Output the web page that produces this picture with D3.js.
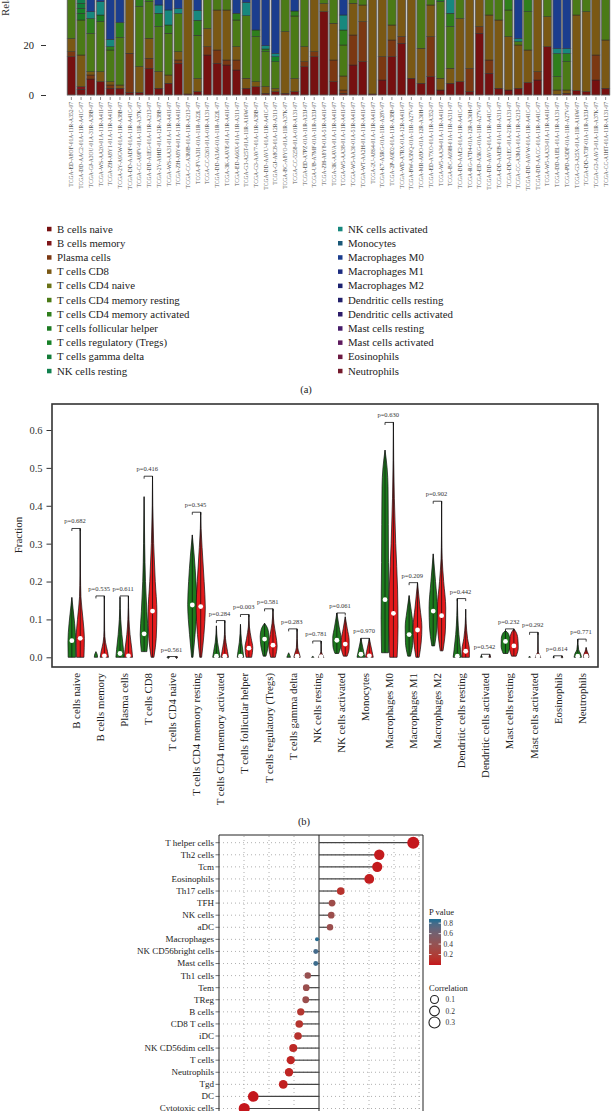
<!DOCTYPE html>
<html><head><meta charset="utf-8">
<script src="https://cdn.jsdelivr.net/npm/d3@7"></script>
<style>body{margin:0;background:#fff} svg{display:block} text{font-family:"Liberation Serif","DejaVu Serif",serif}</style>
</head><body><svg id="c" width="612" height="1111"></svg>
<script>
// ---------- DATA ----------
const cellTypes = ["B cells naive","B cells memory","Plasma cells","T cells CD8","T cells CD4 naive","T cells CD4 memory resting","T cells CD4 memory activated","T cells follicular helper","T cells regulatory (Tregs)","T cells gamma delta","NK cells resting","NK cells activated","Monocytes","Macrophages M0","Macrophages M1","Macrophages M2","Dendritic cells resting","Dendritic cells activated","Mast cells resting","Mast cells activated","Eosinophils","Neutrophils"];
const cellColors = ["#761010","#80161a","#7b3812","#7a5814","#6a7216","#4b7a16","#2f7f1c","#1c7a22","#178128","#137c38","#11804e","#17887e","#1a5878","#1b3d8e","#1c2c80","#1c2270","#22206a","#2c1c6a","#461c6a","#5e1a5e","#6c1a42","#741a2c"];
const samples = ["TCGA-ED-A8OF-01A-11R-A352-07","TCGA-DD-AAC2-01A-11R-A41C-07","TCGA-GJ-A3OU-01A-31R-A38B-07","TCGA-WS-AA20-01A-11R-A41I-07","TCGA-ZH-A8Y1-01A-11R-A41I-07","TCGA-2Y-A9GW-01A-11R-A38B-07","TCGA-DD-AADF-01A-11R-A41C-07","TCGA-CC-A9FV-01A-11R-A37K-07","TCGA-DD-A1EG-01A-11R-A213-07","TCGA-2Y-A9HD-01A-12R-A38B-07","TCGA-WS-AA31-01A-11R-A41I-07","TCGA-ZH-A8Y4-01A-11R-A41I-07","TCGA-CC-A3MB-01A-11R-A213-07","TCGA-FV-A3I1-01A-11R-A22L-07","TCGA-CC-5261-01A-01R-A131-07","TCGA-DD-A3A6-01A-11R-A22L-07","TCGA-3K-AAVE-01A-11R-A41I-07","TCGA-ED-A66X-01A-11R-A311-07","TCGA-G3-A25T-01A-11R-A16W-07","TCGA-G3-AAV7-01A-11R-A38B-07","TCGA-DD-AAVU-01A-11R-A41C-07","TCGA-GJ-A8C8-01A-12R-A311-07","TCGA-BC-A8YO-01A-11R-A37K-07","TCGA-CC-5258-01A-01R-A131-07","TCGA-ED-A7PZ-01A-11R-A33J-07","TCGA-UB-A7MF-01A-11R-A33J-07","TCGA-ZH-A8Y8-01A-51R-A41I-07","TCGA-3K-AAVA-01A-11R-A41I-07","TCGA-W5-AA38-01A-11R-A41I-07","TCGA-W5-AA30-01A-51R-A41I-07","TCGA-WT-AA2H-01A-11R-A41I-07","TCGA-2U-A8S4-01A-11R-A41I-07","TCGA-K7-A5RG-01A-11R-A28V-07","TCGA-2P-A9D2-01A-11R-A38B-07","TCGA-WD-A7RX-01A-12R-A41I-07","TCGA-BW-A5NQ-01A-11R-A27V-07","TCGA-MR-A8JO-01A-12R-A36H-07","TCGA-ED-A7XO-01A-11R-A352-07","TCGA-W5-AA34-01A-11R-A41I-07","TCGA-BC-A69H-01A-11R-A311-07","TCGA-DD-AAE2-01A-11R-A41C-07","TCGA-RG-A7D4-01A-12R-A36H-07","TCGA-ED-A5KG-01A-11R-A27V-07","TCGA-DD-AAVQ-01A-11R-A41C-07","TCGA-DD-AAEB-01A-11R-A311-07","TCGA-DD-A1EC-01A-21R-A131-07","TCGA-CC-A3MA-01A-11R-A213-07","TCGA-DD-AAVW-01A-11R-A41C-07","TCGA-DD-AACC-01A-11R-A41C-07","TCGA-W5-AA33-01A-11R-A41I-07","TCGA-DD-A1EL-01A-11R-A131-07","TCGA-PD-A5DF-01A-11R-A27V-07","TCGA-G3-A25X-01A-11R-A16W-07","TCGA-DD-A73F-01A-11R-A33J-07","TCGA-G3-AAV3-01A-11R-A37K-07","TCGA-CC-A1HT-01A-11R-A131-07"];
// per sample: [cell type index, percent] (non-zero only)
const sampleSegments = [
[[0,15.3],[2,2],[3,5.3],[5,30],[6,5],[13,15],[15,12],[18,10],[21,5.4]],
[[0,2.3],[1,1],[3,12.7],[5,14],[7,2.7],[8,2],[9,2],[10,5],[13,30],[15,18.3],[18,10]],
[[0,6.4],[2,1.6],[3,1.3],[5,15.3],[6,6],[11,2.7],[13,40],[15,16.7],[18,10]],
[[0,5.3],[3,4],[5,20],[7,2.7],[11,5.3],[13,35],[15,17.7],[18,10]],
[[0,2.7],[2,1.3],[3,1.3],[5,12.7],[6,1.3],[11,3],[13,45],[15,20.7],[18,12]],
[[0,2.7],[3,1.3],[5,19],[6,6],[13,40],[15,19],[18,12]],
[[0,1],[2,15.7],[3,45],[5,15],[15,13.3],[18,10]],
[[0,1],[3,10.4],[5,24],[6,8],[13,25],[15,18.6],[18,13]],
[[0,10.7],[2,4],[3,8],[5,14.7],[6,4],[11,3],[13,30],[15,15.6],[18,10]],
[[0,2.7],[3,6.7],[5,18],[6,5.3],[11,3.3],[13,40],[15,14],[18,10]],
[[0,4.7],[3,3.3],[5,16.7],[6,3.3],[11,6],[13,40],[15,16],[18,10]],
[[0,12.7],[2,1.3],[3,3.3],[5,15.3],[11,2],[13,40],[15,15.4],[18,10]],
[[0,0.4],[3,60],[5,15],[15,14.6],[18,10]],
[[0,1.3],[3,5.3],[5,17.3],[6,6],[11,4],[13,40],[15,16.1],[18,10]],
[[0,16],[2,3.3],[3,7.3],[5,35],[13,15],[15,13.4],[18,10]],
[[0,12.7],[2,5.3],[3,16],[5,30],[13,12],[15,14],[18,10]],
[[0,12],[2,2],[3,20],[5,30],[13,12],[15,14],[18,10]],
[[0,10],[2,4],[3,5.3],[5,10.7],[6,2.7],[13,40],[15,17.3],[18,10]],
[[0,2.7],[3,4],[5,25],[11,5.3],[13,35],[15,18],[18,10]],
[[0,3.3],[3,2],[5,18],[6,2.7],[13,45],[15,19],[18,10]],
[[0,0.7],[3,2.7],[5,14],[6,1],[11,1.3],[13,55],[15,15.3],[18,10]],
[[0,1.3],[3,1.3],[5,10.7],[8,2],[11,1.3],[13,55],[15,18.4],[18,10]],
[[0,0.7],[3,24.7],[5,40],[15,20],[18,14.6]],
[[0,1.3],[3,5.3],[5,25],[6,2],[13,40],[15,16.4],[18,10]],
[[0,11.3],[2,2],[3,6],[5,40],[13,15],[15,15.7],[18,10]],
[[0,15.3],[2,2],[3,45],[5,15],[15,12.7],[18,10]],
[[0,33.3],[3,3.3],[5,30],[15,20],[18,13.4]],
[[0,5.3],[2,8.7],[3,14.7],[5,35],[15,20],[18,16.3]],
[[0,0.7],[2,1.3],[3,5.6],[5,12.4],[6,6],[11,6],[13,40],[15,18],[18,10]],
[[0,12],[2,12],[3,12.7],[5,30],[15,20],[18,13.3]],
[[0,13.3],[2,16],[3,6.7],[5,30],[15,20],[18,14]],
[[0,0.4],[3,60],[5,15],[15,14.6],[18,10]],
[[0,6],[2,9.3],[3,50],[5,14.7],[15,12],[18,8]],
[[0,15.3],[2,6.7],[3,6],[5,40],[15,20],[18,12]],
[[0,20.7],[2,2.7],[3,45],[5,15],[15,10],[18,6.6]],
[[0,6.7],[3,55],[5,20],[15,10],[18,8.3]],
[[0,4.7],[3,14],[5,45],[15,20],[18,16.3]],
[[0,7.3],[2,16],[3,12.7],[5,35],[15,17],[18,12]],
[[0,2],[3,4.7],[5,30.7],[7,2.6],[13,30],[15,20],[18,10]],
[[0,4.7],[3,6],[5,16.7],[6,5.3],[11,8],[13,30],[15,19.3],[18,10]],
[[0,5.3],[3,25.3],[5,40],[15,17],[18,12.4]],
[[0,1.3],[2,9.3],[3,55],[5,15],[15,11.4],[18,8]],
[[0,24.7],[2,2.7],[3,45],[5,12],[15,10],[18,5.6]],
[[0,8.7],[2,5.3],[3,18],[5,40],[15,16],[18,12]],
[[0,2.7],[3,27.3],[5,40],[15,18],[18,12]],
[[0,2],[3,21.3],[5,10.7],[6,20],[15,26],[18,20]],
[[0,2.7],[3,17.3],[5,1.3],[11,1.3],[13,50],[15,17.4],[18,10]],
[[0,5],[3,13],[5,15.3],[6,20],[15,26.7],[18,20]],
[[0,6],[2,3.3],[3,55],[5,15],[15,12.7],[18,8]],
[[0,19.3],[3,12],[5,40],[15,16.7],[18,12]],
[[0,0.3],[3,1.7],[5,5.3],[6,9.3],[11,2],[13,50],[15,21.4],[18,10]],
[[0,0.7],[3,1.3],[5,11.3],[6,3.3],[11,2],[13,50],[15,21.4],[18,10]],
[[0,1.7],[3,30.3],[5,40],[15,18],[18,10]],
[[0,1.3],[3,32],[5,35],[15,20],[18,11.7]],
[[0,6],[2,10],[3,50],[5,15],[15,11],[18,8]],
[[0,2.7],[3,19.3],[5,45],[15,20],[18,13]]
];
const percentTicks = [0,20,40,60,80,100];

// Panel b: violins (profile = [fraction, relative density width]) and medians
const pValues = ["0.682","0.535","0.611","0.416","0.561","0.345","0.284","0.003","0.581","0.283","0.781","0.061","0.970","0.630","0.209","0.902","0.442","0.542","0.232","0.292","0.614","0.771"];
const violinNormal = [
 [[0,0.8],[0.04,0.85],[0.09,0.6],[0.13,0.25],[0.158,0]],
 [[0,0.35],[0.006,0.3],[0.015,0]],
 [[0,0.9],[0.02,0.75],[0.06,0.4],[0.1,0.15],[0.158,0]],
 [[0.015,0.6],[0.06,0.85],[0.12,0.6],[0.2,0.3],[0.3,0.12],[0.424,0]],
 [[0,0.3],[0.002,0]],
 [[0,0.15],[0.06,0.6],[0.14,1],[0.2,0.8],[0.27,0.4],[0.323,0]],
 [[0,0.8],[0.015,0.6],[0.04,0.25],[0.083,0]],
 [[0,0.7],[0.015,0.55],[0.04,0.25],[0.087,0]],
 [[0.003,0.3],[0.03,0.8],[0.055,0.95],[0.075,0.7],[0.09,0]],
 [[0,0.4],[0.005,0.25],[0.012,0]],
 [[0,0.25],[0.003,0]],
 [[0.01,0.4],[0.03,0.85],[0.05,0.9],[0.08,0.5],[0.117,0]],
 [[0,0.85],[0.015,0.6],[0.035,0.25],[0.05,0]],
 [[0.012,0.75],[0.1,0.85],[0.25,0.75],[0.45,0.65],[0.5,0.45],[0.547,0]],
 [[0.003,0.3],[0.04,0.8],[0.08,0.85],[0.12,0.5],[0.163,0]],
 [[0.03,0.3],[0.08,0.8],[0.13,0.9],[0.2,0.5],[0.273,0]],
 [[0,0.9],[0.02,0.7],[0.06,0.35],[0.11,0.1],[0.155,0]],
 [[0,0.2],[0.005,0]],
 [[0.01,0.5],[0.03,0.95],[0.05,0.9],[0.065,0.5],[0.07,0]],
 [[0,0.2],[0.003,0]],
 [[0,0.15],[0.003,0]],
 [[0,0.8],[0.01,0.6],[0.02,0.2],[0.048,0]]
];
const violinTumor = [
 [[0,0.8],[0.05,0.9],[0.1,0.6],[0.16,0.15],[0.22,0.05],[0.34,0]],
 [[0,0.9],[0.015,0.7],[0.04,0.25],[0.07,0.06],[0.162,0]],
 [[0,0.9],[0.02,0.75],[0.06,0.35],[0.1,0.12],[0.162,0]],
 [[0,0.3],[0.05,0.8],[0.12,0.95],[0.2,0.6],[0.3,0.25],[0.4,0.06],[0.478,0]],
 [[0,0.3],[0.002,0]],
 [[0,0.2],[0.06,0.7],[0.13,1],[0.2,0.75],[0.29,0.3],[0.34,0.08],[0.383,0]],
 [[0,0.8],[0.015,0.6],[0.04,0.25],[0.06,0.08],[0.097,0]],
 [[0,0.6],[0.025,0.85],[0.05,0.5],[0.08,0.12],[0.113,0]],
 [[0,0.5],[0.03,0.9],[0.06,0.6],[0.09,0.2],[0.128,0]],
 [[0,0.7],[0.01,0.5],[0.025,0.15],[0.075,0]],
 [[0,0.6],[0.006,0.35],[0.015,0.05],[0.043,0]],
 [[0.003,0.4],[0.025,0.85],[0.045,0.85],[0.075,0.45],[0.107,0]],
 [[0,0.85],[0.015,0.6],[0.035,0.25],[0.05,0]],
 [[0,0.8],[0.08,1],[0.18,0.9],[0.3,0.5],[0.42,0.2],[0.52,0.06],[0.62,0]],
 [[0,0.35],[0.04,0.8],[0.08,0.95],[0.13,0.55],[0.197,0]],
 [[0.017,0.3],[0.08,0.85],[0.13,0.9],[0.2,0.45],[0.26,0.12],[0.32,0.03],[0.412,0]],
 [[0,0.8],[0.02,0.8],[0.05,0.4],[0.09,0.1],[0.127,0]],
 [[0,0.2],[0.008,0]],
 [[0.003,0.5],[0.025,0.95],[0.05,0.85],[0.068,0.4],[0.075,0]],
 [[0,0.6],[0.008,0.3],[0.015,0.04],[0.066,0]],
 [[0,0.2],[0.004,0]],
 [[0,0.6],[0.008,0.5],[0.015,0.25],[0.026,0]]
];
const medianNormal = [0.044,0.001,0.01,0.062,0,0.138,0.003,0.003,0.048,0.001,0,0.045,0.008,0.152,0.06,0.122,0.003,0,0.042,0,0,0.003];
const medianTumor = [0.05,0.004,0.004,0.122,0,0.134,0.003,0.024,0.032,0.003,0.002,0.035,0.004,0.116,0.072,0.11,0.016,0,0.03,0.003,0,0.003];
const fractionTicks = [0,0.1,0.2,0.3,0.4,0.5,0.6];

// Panel c: lollipop
const immuneCells = ["T helper cells","Th2 cells","Tcm","Eosinophils","Th17 cells","TFH","NK cells","aDC","Macrophages","NK CD56bright cells","Mast cells","Th1 cells","Tem","TReg","B cells","CD8 T cells","iDC","NK CD56dim cells","T cells","Neutrophils","Tgd","DC","Cytotoxic cells"];
const correlations = [0.377,0.241,0.233,0.201,0.087,0.052,0.049,0.044,-0.008,-0.013,-0.013,-0.045,-0.051,-0.053,-0.073,-0.079,-0.084,-0.103,-0.113,-0.12,-0.143,-0.263,-0.299];
const corPValues = [0.0,0.01,0.01,0.02,0.12,0.33,0.35,0.36,0.86,0.8,0.82,0.38,0.36,0.36,0.15,0.13,0.12,0.07,0.05,0.05,0.03,0.0,0.0];
const corGridTicks = [-0.3,-0.2,-0.1,0.1,0.2,0.3,0.4];
const pLegendTicks = [0.2,0.4,0.6,0.8];
const corLegendValues = [0.1,0.2,0.3];

// ---------- DRAW ----------
const svg = d3.select("#c");
svg.append("rect").attr("width",612).attr("height",1111).attr("fill","#fff");
const FONT = "'Liberation Serif','DejaVu Serif',serif";

// ===== Panel a =====
const xA = d3.scaleBand().domain(samples).range([66.5,610.5]).paddingInner(0.14).paddingOuter(0.07);
const yA = d3.scaleLinear().domain([0,100]).range([95,-155]);
const rowsA = samples.map((s,i)=>{const o={sample:s}; cellTypes.forEach(c=>o[c]=0); sampleSegments[i].forEach(([k,v])=>{o[cellTypes[k]]=v;}); return o;});
const stackA = d3.stack().keys(cellTypes)(rowsA);
const gA = svg.append("g");
gA.selectAll("g.layer").data(stackA).join("g").attr("fill",(d,i)=>cellColors[i])
  .selectAll("rect").data(d=>d.filter(e=>e[1]-e[0]>0)).join("rect")
  .attr("x",e=>xA(e.data.sample)).attr("width",xA.bandwidth())
  .attr("y",e=>yA(e[1])).attr("height",e=>yA(e[0])-yA(e[1]))
  .attr("stroke","#2a2a2a").attr("stroke-width",0.5);
gA.selectAll("rect.ol").data(samples).join("rect").attr("class","ol")
  .attr("x",d=>xA(d)).attr("width",xA.bandwidth()).attr("y",yA(100)).attr("height",yA(0)-yA(100))
  .attr("fill","none").attr("stroke","#777").attr("stroke-width",0.6);
// only ticks inside the visible page (the upper part of the chart is cropped in the reference)
const axA = d3.axisLeft(yA).tickValues(percentTicks.filter(t=>yA(t)>=8)).tickSize(5).tickPadding(7);
const gAx = gA.append("g").attr("transform","translate(46,0)").call(axA);
gAx.select(".domain").remove();
gAx.selectAll("text").style("font-family",FONT).style("font-size","10.5px").attr("fill","#222");
gAx.selectAll("line").attr("stroke","#333");
gA.append("text").attr("transform","translate(9,16) rotate(-90)").attr("text-anchor","start")
  .style("font-size","11px").attr("fill","#333").text("Relative Percent (%)");
gA.selectAll("line.st").data(samples).join("line").attr("class","st")
  .attr("x1",d=>xA(d)+xA.bandwidth()/2).attr("x2",d=>xA(d)+xA.bandwidth()/2)
  .attr("y1",97).attr("y2",100).attr("stroke","#444").attr("stroke-width",0.6);
gA.selectAll("text.sl").data(samples).join("text").attr("class","sl")
  .attr("transform",d=>`translate(${xA(d)+xA.bandwidth()/2+2},102) rotate(-90)`)
  .attr("text-anchor","end").style("font-size","5.6px").attr("fill","#555").text(d=>d);
const legA = gA.append("g");
cellTypes.forEach((c,i)=>{
  const col = i<11?0:1, r = i%11;
  const x = col===0?47:338, y = 229 + r*14.2;
  legA.append("rect").attr("x",x).attr("y",y-2.2).attr("width",4.5).attr("height",4.5).attr("fill",cellColors[i]);
  legA.append("text").attr("x",x+10).attr("y",y+3.5).style("font-size","10.8px").attr("fill","#222").text(c);
});
svg.append("text").attr("x",306).attr("y",393).attr("text-anchor","middle").style("font-size","10.5px").attr("fill","#222").text("(a)");

// ===== Panel b =====
const xB = d3.scaleBand().domain(cellTypes).range([64,594]);
const yB = d3.scaleLinear().domain([0,0.6]).range([657.3,430]);
const gB = svg.append("g");
const W = 4.6, OFF = 4.2;
const colN = "#1d7a1d", colT = "#e31a1c";
function violin(cx, prof, fill){
  const area = d3.area().y(d=>yB(d[0])).x0(d=>cx-d[1]*W).x1(d=>cx+d[1]*W).curve(d3.curveMonotoneY);
  gB.append("path").attr("d",area(prof)).attr("fill",fill).attr("stroke","#111").attr("stroke-width",0.7);
  const lo = prof[0][0], hi = prof[prof.length-1][0];
  if(hi-lo>0.02){
    gB.append("line").attr("x1",cx).attr("x2",cx).attr("y1",yB(lo)).attr("y2",yB(hi)).attr("stroke","#111").attr("stroke-width",0.7);
  }
  return hi;
}
cellTypes.forEach((c,i)=>{
  const cx = xB(c)+xB.bandwidth()/2;
  const hN = violin(cx-OFF, violinNormal[i], colN);
  const hT = violin(cx+OFF, violinTumor[i], colT);
  if(hN>=0.02) gB.append("circle").attr("cx",cx-OFF).attr("cy",yB(medianNormal[i])).attr("r",2.4).attr("fill","#fff");
  if(hT>=0.02) gB.append("circle").attr("cx",cx+OFF).attr("cy",yB(medianTumor[i])).attr("r",2.4).attr("fill","#fff");
  const top = Math.max(hN,hT);
  const yb = yB(top);
  gB.append("path").attr("d",`M${cx-OFF},${yb+2.5}V${yb}H${cx+OFF}V${yb+2.5}`).attr("fill","none").attr("stroke","#111").attr("stroke-width",0.8);
  gB.append("text").attr("x",cx-1).attr("y",yb-5).attr("text-anchor","middle").style("font-size","6.5px").attr("fill","#333").text("p="+pValues[i]);
});
gB.append("rect").attr("x",52).attr("y",404).attr("width",546).attr("height",263).attr("fill","none").attr("stroke","#333").attr("stroke-width",1.6);
const axB = d3.axisLeft(yB).tickValues(fractionTicks).tickFormat(d3.format(".1f")).tickSize(5).tickPadding(4);
const gBx = gB.append("g").attr("transform","translate(51.5,0)").call(axB);
gBx.select(".domain").remove();
gBx.selectAll("text").style("font-family",FONT).style("font-size","10.5px").attr("fill","#333");
gBx.selectAll("line").attr("stroke","#333");
gB.append("text").attr("transform","translate(22,535) rotate(-90)").attr("text-anchor","middle").style("font-size","11px").attr("fill","#222").text("Fraction");
gB.selectAll("text.xl").data(cellTypes).join("text").attr("class","xl")
  .attr("transform",d=>`translate(${xB(d)+xB.bandwidth()/2+3.8},673) rotate(-90)`)
  .attr("text-anchor","end").style("font-size","10.8px").attr("fill","#222").text(d=>d);
svg.append("text").attr("x",304).attr("y",825).attr("text-anchor","middle").style("font-size","10.5px").attr("fill","#222").text("(b)");

// ===== Panel c =====
const xC = d3.scaleLinear().domain([-0.4,0.4]).range([219,419]);
const yC = d3.scalePoint().domain(immuneCells).range([842.7,1108.5]);
const absExt = d3.extent(correlations.map(Math.abs));
const rC = v => 2 + 4*Math.sqrt((Math.abs(v)-absExt[0])/(absExt[1]-absExt[0]));
const colC = d3.scaleLinear().domain([0,0.88]).range(["#c4161c","#1b6f96"]).interpolate(d3.interpolateLab);
const gC = svg.append("g");
const xRight = xC(0.416);
gC.selectAll("line.vg").data(corGridTicks).join("line")
  .attr("x1",d=>xC(d)).attr("x2",d=>xC(d)).attr("y1",836).attr("y2",1115)
  .attr("stroke","#9a9a9a").attr("stroke-width",0.8).attr("stroke-dasharray","1,3");
gC.selectAll("line.hg").data(immuneCells).join("line")
  .attr("x1",219).attr("x2",xRight).attr("y1",d=>yC(d)).attr("y2",d=>yC(d))
  .attr("stroke","#9a9a9a").attr("stroke-width",0.8).attr("stroke-dasharray","1,3");
gC.append("path").attr("d",`M219,1115V835H${xRight}V1115`).attr("fill","none").attr("stroke","#222").attr("stroke-width",1);
gC.append("line").attr("x1",xC(0)).attr("x2",xC(0)).attr("y1",835).attr("y2",1115).attr("stroke","#222").attr("stroke-width",1);
gC.selectAll("line.seg").data(immuneCells).join("line")
  .attr("x1",xC(0)).attr("x2",(d,i)=>xC(correlations[i])).attr("y1",d=>yC(d)).attr("y2",d=>yC(d))
  .attr("stroke","#444").attr("stroke-width",1.2);
gC.selectAll("circle.dot").data(immuneCells).join("circle")
  .attr("cx",(d,i)=>xC(correlations[i])).attr("cy",d=>yC(d)).attr("r",(d,i)=>rC(correlations[i]))
  .attr("fill",(d,i)=>colC(corPValues[i]));
gC.selectAll("line.tk").data(immuneCells).join("line")
  .attr("x1",215.5).attr("x2",219).attr("y1",d=>yC(d)).attr("y2",d=>yC(d)).attr("stroke","#333").attr("stroke-width",0.7);
gC.selectAll("text.rl").data(immuneCells).join("text")
  .attr("x",214).attr("y",d=>yC(d)).attr("dy","0.33em").attr("text-anchor","end")
  .style("font-size","9px").attr("fill","#222").text(d=>d);
const defs = svg.append("defs");
const grad = defs.append("linearGradient").attr("id","pg").attr("x1",0).attr("y1",1).attr("x2",0).attr("y2",0);
d3.range(0,1.0001,0.1).forEach(t=>grad.append("stop").attr("offset",t).attr("stop-color",colC(t*0.88)));
const yP = d3.scaleLinear().domain([0,0.88]).range([965,919]);
gC.append("text").attr("x",429).attr("y",915).style("font-size","8.5px").attr("fill","#222").text("P value");
gC.append("rect").attr("x",429).attr("y",919).attr("width",12).attr("height",46).attr("fill","url(#pg)");
pLegendTicks.forEach(t=>{
  gC.append("line").attr("x1",429).attr("x2",431.5).attr("y1",yP(t)).attr("y2",yP(t)).attr("stroke","#fff").attr("stroke-width",0.8);
  gC.append("line").attr("x1",438.5).attr("x2",441).attr("y1",yP(t)).attr("y2",yP(t)).attr("stroke","#fff").attr("stroke-width",0.8);
  gC.append("text").attr("x",443.5).attr("y",yP(t)).attr("dy","0.35em").style("font-size","7.5px").attr("fill","#333").text(t.toFixed(1));
});
gC.append("text").attr("x",429).attr("y",991).style("font-size","8.5px").attr("fill","#222").text("Correlation");
corLegendValues.forEach((v,i)=>{
  const cy = 999.5 + i*11.5;
  gC.append("circle").attr("cx",434.5).attr("cy",cy).attr("r",rC(v)).attr("fill","none").attr("stroke","#222").attr("stroke-width",1.1);
  gC.append("text").attr("x",445.5).attr("y",cy).attr("dy","0.35em").style("font-size","7.5px").attr("fill","#333").text(v.toFixed(1));
});
</script></body></html>
